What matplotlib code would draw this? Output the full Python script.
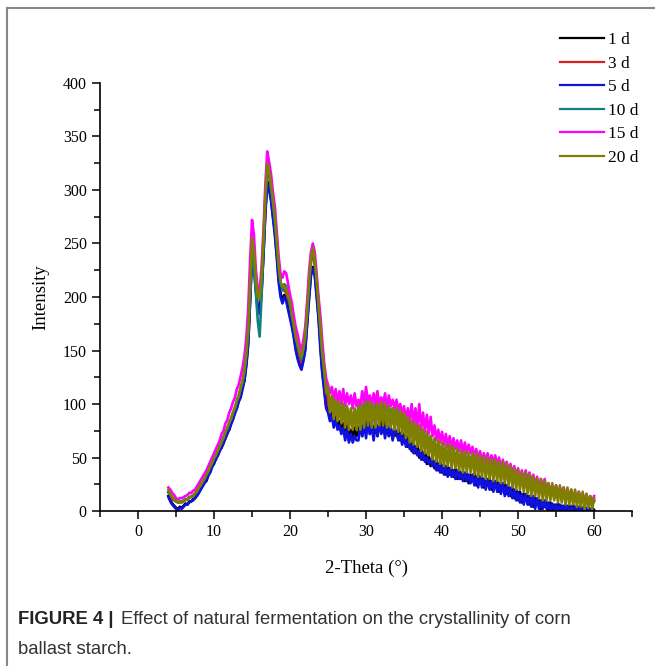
import numpy as np
import matplotlib.pyplot as plt
from matplotlib.lines import Line2D
from matplotlib.ticker import MultipleLocator

# 2-theta grid of the read-off values (every 0.25 degree, 4 -> 60)
theta = np.arange(4.0, 60.01, 0.25)

labels = ['1 d', '3 d', '5 d', '10 d', '15 d', '20 d']
colors = ['#000000', '#d62020', '#1010e0', '#108080', '#ff00ff', '#808000']

d1 = [14, 10, 7, 5, 3, 2, 4, 3, 5, 7, 6, 9, 9, 11, 12, 15, 17, 21, 24, 27,
      28, 34, 37, 42, 44, 50, 52, 57, 59, 65, 68, 74, 76, 83, 86, 93, 96, 104, 108, 116,
      122, 138, 158, 198, 238, 232, 208, 190, 186, 206, 240, 280, 308, 302, 292, 276, 262, 240, 218, 204,
      196, 202, 198, 190, 182, 174, 164, 152, 144, 138, 134, 142, 152, 176, 200, 222, 228, 222, 204, 182,
      156, 130, 116, 98, 96, 86, 92, 80, 88, 78, 84, 74, 82, 70, 80, 66, 76, 68, 78, 70,
      74, 82, 70, 84, 76, 86, 72, 80, 74, 84, 70, 82, 76, 88, 72, 80, 70, 78, 68, 76,
      70, 78, 66, 74, 64, 72, 60, 68, 56, 64, 54, 62, 50, 58, 48, 56, 44, 52, 42, 50,
      40, 48, 38, 46, 36, 44, 34, 42, 34, 40, 32, 40, 30, 38, 30, 36, 28, 36, 26, 34,
      28, 36, 24, 34, 26, 32, 22, 30, 24, 30, 20, 28, 22, 28, 18, 26, 20, 26, 16, 22,
      14, 22, 12, 20, 10, 18, 8, 16, 10, 14, 6, 14, 4, 12, 6, 10, 2, 10, 4, 8,
      1, 8, 0, 6, 2, 7, 0, 5, 1, 6, 0, 5, 2, 6, 0, 4, 1, 5, 0, 4,
      1, 4, 0, 3, 1]
d3 = [18, 15, 11, 10, 9, 8, 8, 9, 9, 11, 11, 13, 13, 15, 15, 18, 20, 24, 26, 30,
      33, 36, 41, 44, 49, 52, 56, 59, 64, 67, 73, 76, 81, 85, 91, 95, 101, 106, 113, 119,
      130, 143, 167, 206, 252, 240, 214, 200, 198, 216, 248, 290, 322, 314, 298, 284, 272, 250, 224, 212,
      208, 206, 204, 198, 192, 180, 170, 158, 154, 144, 138, 150, 164, 184, 208, 232, 244, 230, 210, 190,
      170, 144, 122, 110, 100, 94, 102, 88, 98, 86, 96, 84, 94, 82, 92, 80, 90, 78, 88, 80,
      94, 82, 96, 84, 98, 86, 92, 82, 94, 84, 96, 82, 98, 86, 92, 82, 94, 80, 90, 78,
      92, 78, 88, 76, 86, 72, 82, 70, 80, 66, 76, 64, 74, 60, 70, 58, 68, 54, 64, 52,
      62, 50, 60, 48, 58, 46, 56, 46, 54, 44, 54, 42, 52, 42, 50, 40, 50, 40, 48, 40,
      50, 38, 48, 36, 46, 36, 46, 34, 44, 34, 42, 32, 42, 32, 40, 30, 40, 30, 38, 28,
      38, 26, 36, 24, 34, 24, 32, 22, 30, 20, 28, 20, 28, 18, 26, 16, 24, 16, 22, 14,
      24, 14, 22, 12, 20, 12, 20, 10, 18, 10, 18, 10, 16, 8, 16, 8, 14, 8, 14, 6,
      14, 6, 12, 6, 10]
d5 = [13, 9, 6, 4, 2, 1, 3, 2, 4, 6, 6, 8, 9, 10, 12, 14, 17, 20, 23, 26,
      29, 33, 36, 41, 45, 48, 52, 56, 60, 63, 68, 72, 76, 81, 86, 91, 96, 102, 106, 114,
      122, 136, 156, 196, 240, 230, 206, 188, 184, 204, 238, 278, 305, 300, 290, 274, 258, 238, 214, 200,
      194, 200, 196, 188, 180, 172, 162, 150, 142, 136, 132, 140, 150, 174, 198, 220, 226, 220, 200, 180,
      150, 128, 112, 96, 92, 84, 90, 78, 86, 76, 80, 72, 78, 66, 76, 64, 72, 64, 70, 66,
      66, 80, 70, 82, 68, 84, 72, 80, 66, 82, 70, 84, 72, 80, 68, 82, 70, 78, 66, 76,
      74, 66, 72, 62, 70, 60, 66, 58, 62, 54, 60, 52, 56, 48, 54, 46, 50, 44, 48, 42,
      46, 38, 44, 36, 42, 34, 42, 32, 40, 32, 38, 30, 38, 30, 36, 28, 36, 28, 34, 26,
      34, 24, 32, 22, 32, 22, 30, 20, 30, 20, 28, 18, 28, 18, 26, 16, 26, 14, 24, 14,
      22, 12, 20, 10, 18, 8, 16, 6, 16, 6, 14, 4, 14, 2, 12, 2, 10, 2, 10, 2,
      8, 0, 7, 1, 6, 0, 6, 0, 5, 1, 5, 0, 4, 0, 4, 1, 4, 0, 3, 0,
      3, 0, 2, 1, 0]
d10 = [17, 15, 13, 11, 9, 8, 9, 8, 10, 11, 11, 13, 13, 15, 16, 19, 22, 25, 27, 31,
       34, 38, 41, 46, 49, 53, 56, 61, 64, 69, 73, 78, 82, 87, 92, 97, 102, 108, 114, 121,
       130, 146, 168, 206, 245, 228, 205, 178, 163, 200, 248, 292, 318, 318, 302, 288, 272, 252, 228, 214,
       206, 212, 210, 202, 192, 184, 172, 164, 154, 148, 142, 152, 162, 186, 212, 234, 242, 234, 214, 194,
       168, 146, 128, 118, 112, 102, 104, 96, 104, 94, 100, 92, 100, 90, 96, 88, 94, 86, 92, 88,
       98, 88, 100, 90, 104, 92, 106, 92, 100, 90, 104, 90, 106, 94, 100, 88, 98, 90, 96, 86,
       98, 86, 94, 82, 92, 80, 88, 76, 84, 72, 80, 68, 78, 66, 76, 64, 72, 62, 70, 58,
       66, 54, 64, 52, 62, 50, 60, 50, 58, 48, 58, 46, 56, 46, 54, 44, 54, 44, 52, 44,
       54, 42, 52, 40, 50, 40, 48, 38, 48, 36, 46, 36, 46, 34, 44, 34, 42, 32, 40, 30,
       38, 28, 36, 26, 34, 26, 32, 24, 30, 22, 30, 20, 28, 20, 26, 18, 26, 18, 24, 16,
       22, 14, 20, 14, 20, 12, 18, 12, 18, 10, 16, 10, 16, 10, 14, 8, 14, 8, 12, 8,
       12, 6, 10, 6, 9]
d15 = [22, 20, 17, 15, 12, 11, 12, 12, 13, 14, 15, 17, 17, 19, 20, 23, 26, 29, 32, 35,
       38, 42, 46, 50, 54, 58, 62, 66, 72, 75, 82, 85, 92, 96, 102, 106, 114, 118, 126, 134,
       145, 162, 190, 235, 272, 258, 226, 208, 205, 228, 262, 305, 336, 326, 315, 298, 285, 262, 238, 222,
       218, 224, 222, 212, 202, 194, 182, 172, 165, 156, 150, 160, 172, 196, 224, 242, 250, 242, 222, 200,
       182, 158, 138, 124, 118, 110, 116, 104, 114, 102, 112, 100, 114, 98, 110, 100, 108, 96, 110, 98,
       104, 98, 112, 100, 116, 102, 108, 98, 110, 100, 112, 98, 106, 100, 110, 96, 108, 98, 104, 96,
       104, 94, 100, 90, 98, 86, 96, 84, 100, 80, 96, 78, 100, 76, 92, 74, 90, 72, 88, 70,
       80, 66, 76, 64, 74, 62, 72, 60, 70, 58, 68, 58, 66, 56, 66, 54, 64, 54, 62, 54,
       60, 50, 58, 48, 56, 46, 54, 46, 54, 44, 52, 44, 52, 42, 50, 40, 48, 40, 46, 38,
       44, 34, 42, 32, 40, 30, 38, 28, 38, 28, 36, 26, 34, 24, 32, 22, 30, 22, 30, 20,
       26, 18, 24, 18, 24, 16, 22, 16, 22, 14, 20, 14, 20, 12, 18, 12, 18, 10, 16, 10,
       16, 8, 14, 8, 14]
d20 = [20, 16, 13, 11, 10, 8, 9, 8, 9, 10, 11, 12, 14, 14, 17, 18, 22, 24, 28, 30,
       34, 37, 42, 45, 50, 52, 57, 60, 65, 68, 74, 77, 83, 86, 92, 96, 104, 107, 116, 121,
       132, 148, 170, 210, 255, 242, 218, 200, 198, 218, 254, 294, 325, 318, 305, 290, 275, 252, 230, 214,
       210, 210, 208, 200, 196, 182, 174, 162, 156, 148, 144, 152, 165, 186, 214, 236, 246, 234, 216, 192,
       172, 146, 134, 110, 116, 92, 108, 86, 104, 84, 102, 82, 100, 78, 98, 76, 96, 76, 96, 76,
       98, 76, 100, 78, 102, 80, 102, 78, 100, 78, 100, 80, 102, 80, 100, 78, 98, 78, 96, 76,
       96, 74, 94, 72, 92, 68, 88, 64, 84, 62, 82, 60, 80, 56, 76, 54, 74, 52, 70, 48,
       68, 46, 66, 44, 64, 42, 62, 42, 62, 40, 60, 40, 58, 38, 56, 36, 56, 36, 54, 36,
       54, 34, 54, 32, 52, 32, 50, 30, 50, 30, 48, 28, 48, 28, 46, 26, 46, 26, 44, 24,
       42, 22, 40, 20, 38, 20, 36, 18, 36, 16, 34, 14, 32, 14, 30, 12, 30, 10, 28, 10,
       26, 10, 26, 10, 24, 8, 24, 8, 22, 6, 22, 6, 20, 6, 20, 4, 18, 4, 18, 2,
       16, 3, 14, 2, 12]
series = [d1, d3, d5, d10, d15, d20]

plt.rcParams['font.family'] = 'Liberation Serif'

fig = plt.figure(figsize=(6.55, 6.66), dpi=100)
ax = fig.add_axes([0.1527, 0.2327, 0.8123, 0.6427])

for y, c, lab in zip(series, colors, labels):
    ax.plot(theta, y, color=c, lw=1.9, label=lab)

ax.set_xlim(-5, 65)
ax.set_ylim(0, 400)
ax.xaxis.set_major_locator(MultipleLocator(10))
ax.xaxis.set_minor_locator(MultipleLocator(5))
ax.yaxis.set_major_locator(MultipleLocator(50))
ax.yaxis.set_minor_locator(MultipleLocator(25))
ax.set_xticks(np.arange(0, 61, 10))
ax.tick_params(which='both', direction='out', width=1.1, labelsize=11.5)
ax.tick_params(which='major', length=6)
ax.tick_params(which='minor', length=4)
for s in ['top', 'right']:
    ax.spines[s].set_visible(False)
for s in ['left', 'bottom']:
    ax.spines[s].set_linewidth(1.2)

ax.set_xlabel('2-Theta (°)', fontsize=13.5, labelpad=14)
ax.set_ylabel('Intensity', fontsize=13.5, labelpad=10)

leg = fig.legend(loc='upper left', bbox_to_anchor=(0.845, 0.962), frameon=False,
                 fontsize=12.5, handlelength=2.5, handletextpad=0.25,
                 labelspacing=0.42, borderaxespad=0)
for h in leg.get_lines():
    h.set_linewidth(1.6)

# outer frame of the figure panel
fig.add_artist(Line2D([7 / 655, 7 / 655], [0, 1 - 8 / 666], color='#888888', lw=1.5))
fig.add_artist(Line2D([7 / 655, 1], [1 - 8 / 666, 1 - 8 / 666], color='#888888', lw=1.5))

fig.text(18 / 655, 1 - 620 / 666, 'FIGURE 4 |', fontsize=13.3, fontweight='bold',
         family='Liberation Sans', va='center', color='#222222')
fig.text(121 / 655, 1 - 620 / 666, 'Effect of natural fermentation on the crystallinity of corn',
         fontsize=13.3, family='Liberation Sans', va='center', color='#333333')
fig.text(18 / 655, 1 - 650 / 666, 'ballast starch.', fontsize=13.3,
         family='Liberation Sans', va='center', color='#333333')

fig.savefig('out.png', dpi=100)
